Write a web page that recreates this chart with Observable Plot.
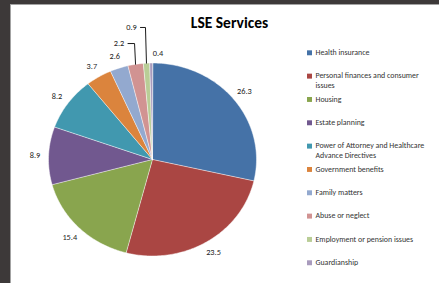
<!DOCTYPE html>
<html>
<head>
<meta charset="utf-8">
<script src="https://cdn.jsdelivr.net/npm/d3@7"></script>
<script src="https://cdn.jsdelivr.net/npm/@observablehq/plot@0.6"></script>
<style>
  html, body { margin: 0; padding: 0; background: #3d3939; overflow: hidden; }
  #panel { position: absolute; left: 10px; top: 4px; width: 429px; height: 279px;
           background: #fff; border-left: 1px solid #a3a3a3; border-top: 1px solid #a3a3a3; }
  #panel svg { display: block; overflow: visible; }
</style>
</head>
<body>
<div id="panel"></div>
<script>
const title = "LSE Services";
const categories = [
  "Health insurance",
  "Personal finances and consumer issues",
  "Housing",
  "Estate planning",
  "Power of Attorney and Healthcare Advance Directives",
  "Government benefits",
  "Family matters",
  "Abuse or neglect",
  "Employment or pension issues",
  "Guardianship"
];
const values = [26.3, 23.5, 15.4, 8.9, 8.2, 3.7, 2.6, 2.2, 0.9, 0.4];
const valueLabels = ["26.3", "23.5", "15.4", "8.9", "8.2", "3.7", "2.6", "2.2", "0.9", "0.4"];
const colors = ["#4572A7", "#AA4643", "#89A54E", "#71588F", "#4198AF",
                "#DB843D", "#93A9CF", "#D19392", "#B9CD96", "#A99BBD"];

// ---- layout (not data) ----
const W = 428, H = 278;
const cx = 141, cy = 154, rx = 104, ry = 96.5;
const labelK = 1.13;
const labelFont = 8.3;
const legendFont = 7.9;
// Excel-like label placement for the crowded small slices
const labelOverride = {
  "Abuse or neglect": {deg: 345, k: 1.244, leader: true},
  "Employment or pension issues": {deg: 351.6, k: 1.383, leader: true},
  "Guardianship": {deg: 2.76, k: 1.099, leader: false}
};
const legend = {x: 298, y0: 47.3, step: 23.33, textDx: 6};

const data = categories.map((name, i) => ({name, value: values[i], label: valueLabels[i], color: colors[i], i}));
const arcs = d3.pie().sort(null).value(d => d.value)(data);

const ex = (a, k = 1) => cx + rx * k * Math.sin(a);
const ey = (a, k = 1) => cy - ry * k * Math.cos(a);

// slice polygons
const slicePts = [];
for (const a of arcs) {
  const n = Math.max(2, Math.ceil((a.endAngle - a.startAngle) / (Math.PI / 180)));
  slicePts.push({name: a.data.name, x: cx, y: cy});
  for (let j = 0; j <= n; j++) {
    const t = a.startAngle + (a.endAngle - a.startAngle) * j / n;
    slicePts.push({name: a.data.name, x: ex(t), y: ey(t)});
  }
}

// value labels
const labelPts = arcs.map(a => {
  const mid = (a.startAngle + a.endAngle) / 2;
  const o = labelOverride[a.data.name];
  const ang = o ? o.deg * Math.PI / 180 : mid;
  const k = o ? o.k : labelK;
  return {name: a.data.name, label: a.data.label, x: ex(ang, k), y: ey(ang, k), mid, leader: o && o.leader};
});

// leader lines
const leaderPts = [];
for (const l of labelPts.filter(d => d.leader)) {
  const half = l.label.length * labelFont * 0.3 + 1.5;
  const exx = ex(l.mid), eyy = ey(l.mid);
  leaderPts.push({name: l.name, x: l.x + half, y: l.y});
  leaderPts.push({name: l.name, x: exx - 1, y: l.y});
  leaderPts.push({name: l.name, x: exx, y: eyy});
}

// legend text wrap (greedy, by characters)
function wrap(s, max = 32) {
  const words = s.split(" "); const lines = []; let cur = "";
  for (const w of words) {
    if (cur && (cur + " " + w).length > max) { lines.push(cur); cur = w; }
    else cur = cur ? cur + " " + w : w;
  }
  if (cur) lines.push(cur);
  return lines.join("\n");
}

const font = "Carlito, Lato, 'Liberation Sans', sans-serif";

const chart = Plot.plot({
  width: W, height: H, margin: 0,
  x: {domain: [0, W], range: [0, W], axis: null},
  y: {domain: [0, H], range: [0, H], axis: null},
  color: {domain: categories, range: colors},
  style: {background: "white", fontFamily: font, overflow: "visible"},
  marks: [
    Plot.line(slicePts, {x: "x", y: "y", z: "name", fill: "name", stroke: "white", strokeWidth: 0.6, strokeOpacity: 0.8, curve: "linear-closed"}),
    Plot.line(leaderPts, {x: "x", y: "y", z: "name", stroke: "#000", strokeWidth: 0.9, strokeLinejoin: "miter"}),
    Plot.text(labelPts, {x: "x", y: "y", text: "label", fontSize: labelFont, fill: "#222", textAnchor: "middle"}),
    Plot.text([title], {frameAnchor: "top", dx: 4, dy: 11, fontSize: 15.5, fontWeight: "bold", fill: "#000", lineAnchor: "top"}),
    Plot.dot(data, {x: () => legend.x, y: d => legend.y0 + d.i * legend.step, symbol: "square", r: 2.8, fill: "name", stroke: null}),
    Plot.text(data, {x: () => legend.x + legend.textDx, y: d => legend.y0 + d.i * legend.step - 4.4,
      text: d => wrap(d.name), textAnchor: "start", lineAnchor: "top", lineHeight: 1.17,
      fontSize: legendFont, fill: "#333"})
  ]
});
document.getElementById("panel").appendChild(chart);
</script>
</body>
</html>
